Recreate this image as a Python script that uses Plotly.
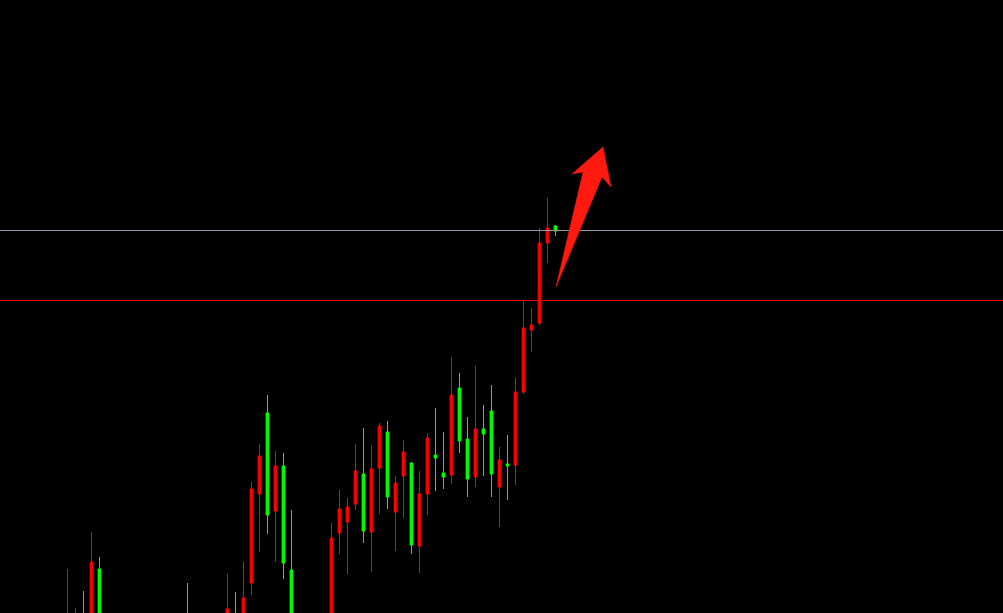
import plotly.graph_objects as go

# Candle index (bar number), OHLC in chart price units (None = bar below visible window)
idx = list(range(62))
opens = [-30, -30, -5, -20, 44] + [None]*10 + [-5] + [None]*4 + [-20, -5, -15, 30, 119, 200, 102, 147, 43] + [None]*4 + \
        [-10, 80, 91, 109, 139, 81, 145, 181, 101, 137, 150, 67, 119, 158, 140, 138, 225, 174, 136, 184, 202, 126, 149, 148, 221, 283, 290, 370, 387]
highs = [44, 5, 22, 81, 56] + [None]*10 + [30] + [None]*4 + [39, 21, 51, 131, 169, 218, 162, 160, 103] + [None]*4 + \
        [90, 123, 115, 169, 185, 168, 190, 192, 137, 173, 151, 142, 180, 205, 181, 256, 240, 196, 247, 208, 228, 166, 178, 235, 312, 305, 385, 415, 388]
lows = [-40, -40, -40, -30, -30] + [None]*10 + [-50] + [None]*4 + [-30, -50, -25, 18, 61, 79, 51, 34, -20] + [None]*4 + \
       [-20, 59, 39, 103, 70, 41, 99, 104, 62, 95, 59, 40, 98, 122, 124, 129, 160, 116, 126, 137, 116, 86, 113, 128, 219, 261, 288, 350, 377]
closes = [-5, -5, -30, 51, -20] + [None]*10 + [-40] + [None]*4 + [4, -40, 15, 124, 157, 98, 147, 50, -10] + [None]*4 + \
         [75, 104, 106, 142, 82, 144, 187, 116, 130, 161, 68, 119, 175, 155, 136, 218, 172, 134, 184, 179, 139, 153, 147, 221, 285, 288, 370, 385, 382]

# Horizontal reference levels
level_gray = 382.5
level_red = 312.5

# Arrow outline (pixel points in the 1003x613 picture)
arrow_px = [(603, 147), (611, 187), (602, 177), (556, 287), (583, 172), (572, 174)]

W, H = 1003, 613

fig = go.Figure()
fig.add_trace(go.Candlestick(
    x=idx, open=opens, high=highs, low=lows, close=closes,
    increasing=dict(line=dict(color="#ff0000", width=1), fillcolor="#ff0000"),
    decreasing=dict(line=dict(color="#00ff00", width=1), fillcolor="#00ff00"),
    whiskerwidth=0, showlegend=False, hoverinfo="skip",
))

fig.add_hline(y=level_gray, line=dict(color="#8c97a8", width=1))
fig.add_hline(y=level_red, line=dict(color="#ff0000", width=1))

path = "M " + " L ".join(f"{x / W:.4f},{1 - y / H:.4f}" for x, y in arrow_px) + " Z"
fig.add_shape(type="path", xref="paper", yref="paper", path=path,
              fillcolor="#ff1a0f", line=dict(color="#ff1a0f", width=0.5))

fig.update_layout(
    width=W, height=H,
    margin=dict(l=0, r=0, t=0, b=0),
    paper_bgcolor="#000000", plot_bgcolor="#000000",
    boxgap=0.5,
    showlegend=False,
    xaxis=dict(range=[-67.5 / 8, (W - 67.5) / 8], visible=False, showgrid=False,
               rangeslider=dict(visible=False), fixedrange=True),
    yaxis=dict(range=[0, H], visible=False, showgrid=False, fixedrange=True),
)

fig.write_html("out.html", config={"displayModeBar": False},
               post_script="document.body.style.margin='0';document.body.style.background='#000';")
